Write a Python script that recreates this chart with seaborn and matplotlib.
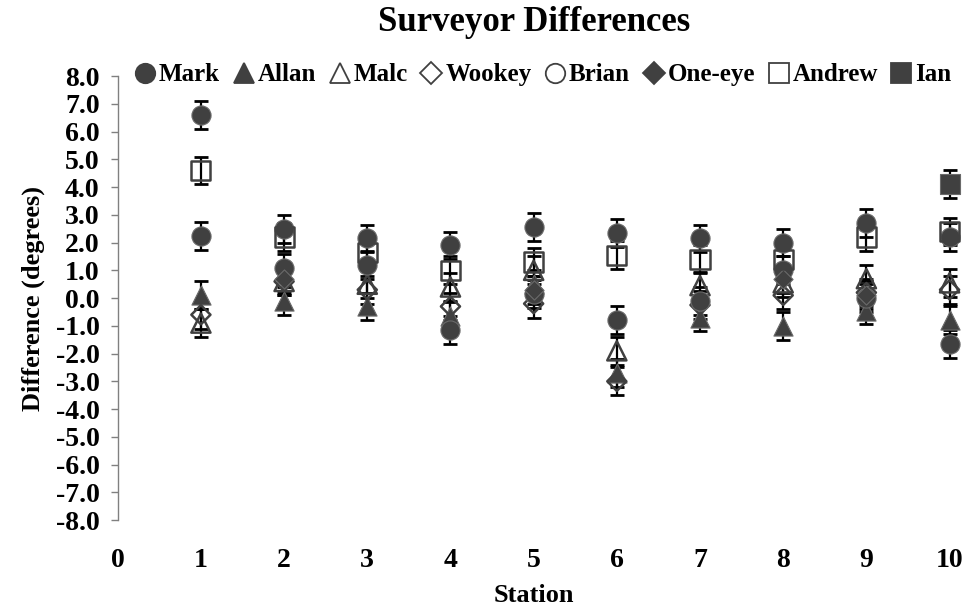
import numpy as np
import pandas as pd
import matplotlib
matplotlib.use('Agg')
import matplotlib.pyplot as plt
from matplotlib.lines import Line2D
import seaborn as sns

# Stations along the x axis
stations = [1, 2, 3, 4, 5, 6, 7, 8, 9, 10]

# Differences (degrees), NaN where a surveyor has no reading
mark = [6.6, 2.5, 2.15, 1.9, 2.55, 2.35, 2.15, 2.0, 2.7, 2.2]
allan = [0.1, -0.1, -0.3, -0.65, 0.5, -2.7, -0.7, -1.0, -0.45, -0.8]
malc = [-0.9, 0.6, 0.5, 0.4, 1.0, -1.9, 0.45, 0.55, 0.7, 0.55]
wookey = [-0.6, 0.6, 0.3, -0.3, -0.2, -3.0, -0.25, 0.1, 0.2, 0.3]
brian = [2.25, 1.1, 1.2, -1.15, 0.15, -0.8, -0.1, 1.0, 0.0, -1.65]
one_eye = [np.nan, 0.7, np.nan, np.nan, 0.3, np.nan, np.nan, 0.7, 0.1, np.nan]
andrew = [4.6, 2.2, 1.65, 1.0, 1.3, 1.55, 1.4, 1.4, 2.2, 2.4]
ian = [np.nan] * 9 + [4.1]
err = 0.5

names = ['Mark', 'Allan', 'Malc', 'Wookey', 'Brian', 'One-eye', 'Andrew', 'Ian']
values = [mark, allan, malc, wookey, brian, one_eye, andrew, ian]

# marker, filled in plot?, filled in legend key?
styles = {
    'Mark': ('o', True, True),
    'Allan': ('^', True, True),
    'Malc': ('^', False, False),
    'Wookey': ('D', False, False),
    'Brian': ('o', True, False),
    'One-eye': ('D', True, True),
    'Andrew': ('s', False, False),
    'Ian': ('s', True, True),
}
sizes = {'o': 190, '^': 190, 'D': 95, 's': 190}

grey = '#404040'

sns.set_theme(style='white')
plt.rcParams['font.family'] = ['Liberation Serif', 'DejaVu Serif']
plt.rcParams['font.weight'] = 'bold'
plt.rcParams['text.color'] = 'black'
plt.rcParams['axes.labelcolor'] = 'black'
plt.rcParams['xtick.color'] = 'black'
plt.rcParams['ytick.color'] = 'black'

fig = plt.figure(figsize=(9.65, 6.14), dpi=100)
ax = fig.add_axes([0.122, 0.153, 0.862, 0.723])

for name, vals in zip(names, values):
    df = pd.DataFrame({'Station': stations, 'Diff': vals}).dropna()
    m, filled, lfilled = styles[name]
    ax.errorbar(df['Station'], df['Diff'], yerr=err, fmt='none', ecolor='black',
                elinewidth=1.6, capsize=5, capthick=2, zorder=2, clip_on=False)
    if filled:
        sns.scatterplot(data=df, x='Station', y='Diff', marker=m, s=sizes[m],
                        color=grey, edgecolor='#6a6a6a', linewidth=0.8,
                        zorder=3, ax=ax, clip_on=False)
    else:
        sns.scatterplot(data=df, x='Station', y='Diff', marker=m, s=sizes[m],
                        facecolor='none', edgecolor=grey, linewidth=1.8,
                        zorder=3, ax=ax, clip_on=False)

ax.set_xlim(0, 10)
ax.set_ylim(-8, 8)
ax.set_yticks(np.arange(-8, 9, 1))
ax.set_yticklabels(['%.1f' % v for v in np.arange(-8, 9, 1)], fontsize=20, fontweight='bold')
ax.set_xticks(range(0, 11))
ax.set_xticklabels([str(i) for i in range(0, 11)], fontsize=20, fontweight='bold')
ax.tick_params(axis='x', length=0, pad=20)
ax.tick_params(axis='y', direction='out', length=5, width=1, color='#808080', left=True, pad=8)

for side in ['top', 'right', 'bottom']:
    ax.spines[side].set_visible(False)
ax.spines['left'].set_color('#808080')
ax.spines['left'].set_linewidth(1)
ax.set_facecolor('white')

ax.set_xlabel('Station', fontsize=19, fontweight='bold', labelpad=8)
ax.set_ylabel('Difference (degrees)', fontsize=19, fontweight='bold', labelpad=8)
fig.suptitle('Surveyor Differences', fontsize=25, fontweight='bold', x=0.553, y=0.99)

handles = []
for name in names:
    m, filled, lfilled = styles[name]
    ms = 11 if m == 'D' else 14
    handles.append(Line2D([], [], linestyle='none', marker=m, markersize=ms,
                          markerfacecolor=grey if lfilled else 'none',
                          markeredgecolor=grey, markeredgewidth=1.3))
fig.legend(handles, names, loc='center', bbox_to_anchor=(0.563, 0.878), ncol=8,
           frameon=False, handlelength=0.8, handletextpad=0.15, columnspacing=0.55,
           prop={'size': 18, 'weight': 'bold'})

plt.savefig('out.png', dpi=100)
